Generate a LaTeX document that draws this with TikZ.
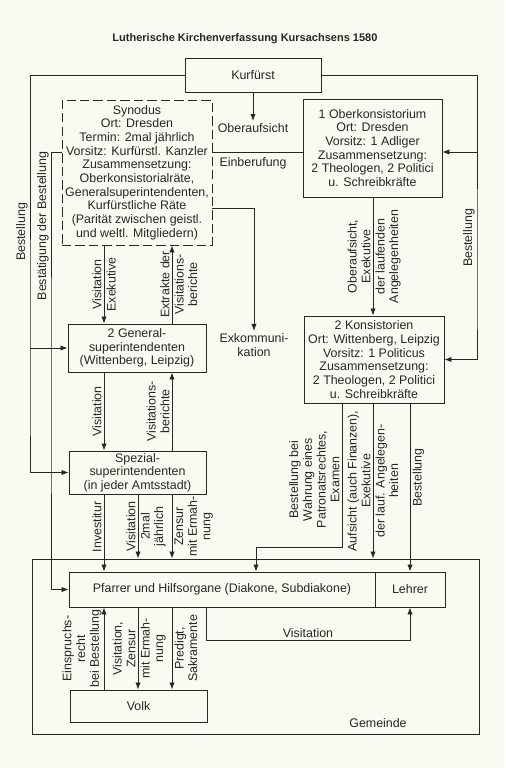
\documentclass[tikz,border=0pt]{standalone}
\usepackage{fontspec}
\setmainfont{Liberation Sans}
\usepackage{tikz}
\usetikzlibrary{arrows.meta,positioning}
\definecolor{paper}{RGB}{250,250,243}
\definecolor{ink}{RGB}{38,38,38}
\newcommand{\orgfont}{\fontsize{10.6pt}{11.7pt}\selectfont}
\tikzset{
  orgblock/.style={draw=ink, line width=0.7pt, align=center, inner sep=0pt, font=\orgfont, text=ink},
  orgdash/.style={orgblock, dash pattern=on 8pt off 3.5pt},
  orgnote/.style={align=center, inner sep=1.8pt, font=\orgfont, text=ink},
  orgvnote/.style={orgnote, rotate=90},
  orgarrow/.style={-{Latex[length=6pt,width=4.5pt]}, draw=ink, line width=0.7pt},
  orgline/.style={draw=ink, line width=0.7pt}
}

\begin{document}
\begin{tikzpicture}[x=0.03cm, y=-0.03cm]
\fill[paper] (0,0) rectangle (505,768);
\useasboundingbox (0,0) rectangle (505,768);
\node[font={\fontsize{9.4pt}{11pt}\selectfont\bfseries}, text=ink] (title) at (245,39) {Lutherische Kirchenverfassung Kursachsens 1580};
\node[orgblock, minimum width=4.08cm, minimum height=1.02cm] (kurf) at (253,75) {Kurfürst};
\node[orgdash, minimum width=4.5cm, minimum height=4.35cm] (syn) at (137,172.5) {Synodus\\Ort: Dresden\\Termin: 2mal jährlich\\Vorsitz: Kurfürstl. Kanzler\\Zusammensetzung:\\Oberkonsistorialräte,\\Generalsuperintendenten,\\Kurfürstliche Räte\\(Parität zwischen geistl.\\und weltl. Mitgliedern)};
\node[orgblock, minimum width=4.17cm, minimum height=2.94cm] (okons) at (372.5,148) {1 Oberkonsistorium\\Ort: Dresden\\Vorsitz: 1 Adliger\\Zusammensetzung:\\2 Theologen, 2 Politici\\u. Schreibkräfte};
\node[orgblock, minimum width=4.14cm, minimum height=1.44cm] (gsup) at (137,348) {2 General-\\superintendenten\\(Wittenberg, Leipzig)};
\node[orgblock, minimum width=4.2cm, minimum height=2.61cm] (kons) at (374,359.5) {2 Konsistorien\\Ort: Wittenberg, Leipzig\\Vorsitz: 1 Politicus\\Zusammensetzung:\\2 Theologen, 2 Politici\\u. Schreibkräfte};
\node[orgblock, minimum width=4.11cm, minimum height=1.29cm] (spez) at (137.5,472.5) {Spezial-\\superintendenten\\(in jeder Amtsstadt)};
\node[orgblock, minimum width=13.41cm, minimum height=5.25cm] (gem) at (255.5,646.5) {};
\node[orgblock, minimum width=9.18cm, minimum height=1.05cm] (pfarrer) at (222,589.5) {Pfarrer und Hilfsorgane (Diakone, Subdiakone)};
\node[orgblock, minimum width=2.1cm, minimum height=1.05cm] (lehrer) at (410,589.5) {Lehrer};
\node[orgblock, minimum width=4.11cm, minimum height=0.96cm] (volk) at (138.5,706) {Volk};
\node[orgnote] (gemlab) at (378,723) {Gemeinde};
\node[orgnote] (obauf) at (253,128) {Oberaufsicht};
\node[orgnote] (einb) at (253,163) {Einberufung};
\node[orgnote, anchor=north] (exkom) at (254,331) {Exkommuni-\\kation};
\node[orgvnote, anchor=south] (bestlab) at (30,232) {Bestellung};
\node[orgvnote, anchor=south] (bestblab) at (51,226) {Bestätigung der Bestellung};
\node[orgvnote, anchor=south] (bestrlab) at (477,238) {Bestellung};

\coordinate (vors) at (0,152);
\coordinate (exk) at (254,208);
\coordinate (bestl) at (30,400);
\coordinate (bestr) at (51,400);
\coordinate (bestk) at (477,300);
\coordinate (cA) at (104,0);
\coordinate (cB) at (138,0);
\coordinate (cC) at (172,0);
\coordinate (cD) at (206,0);
\coordinate (k1) at (342,0);
\coordinate (k2) at (373,0);
\coordinate (k3) at (410,0);
\coordinate (patr) at (256,547);
\coordinate (vis) at (0,640);

\draw[orgarrow] (kurf.west) -| (bestl) |- (spez.west);
\draw[orgarrow] (bestl |- gsup.west) -- (gsup.west);
\draw[orgarrow] (syn.west |- vors) -| (bestr) |- (pfarrer.west);
\draw[orgarrow] (kurf.east) -| (bestk) |- (kons.east);
\draw[orgarrow] (bestk |- vors) -- (okons.east |- vors);
\draw[orgarrow] (kurf.south) -- (obauf.north);
\draw[orgline] (syn.east |- vors) -- (okons.west |- vors);
\draw[orgarrow] (syn.east |- exk) -- (exk) -- (exkom.north);
\draw[orgarrow] (syn.south -| cA) -- (gsup.north -| cA) node[midway, orgvnote, anchor=south] {Visitation} node[midway, orgvnote, anchor=north] {Exekutive};
\draw[orgarrow] (gsup.north -| cC) -- (syn.south -| cC) node[midway, orgvnote, anchor=south] {Extrakte der} node[midway, orgvnote, anchor=north] {Visitations-\\berichte};
\draw[orgarrow] (gsup.south -| cA) -- (spez.north -| cA) node[midway, orgvnote, anchor=south] {Visitation};
\draw[orgarrow] (spez.north -| cC) -- (gsup.south -| cC) node[midway, orgvnote, anchor=south] {Visitations-\\berichte};
\draw[orgarrow] (spez.south -| cA) -- (pfarrer.north -| cA) node[pos=0.42, orgvnote, anchor=south] {Investitur};
\draw[orgarrow] (spez.south -| cB) -- (gem.north -| cB) node[midway, orgvnote, anchor=south] {Visitation} node[midway, orgvnote, anchor=north] {2mal\\jährlich};
\draw[orgarrow] (spez.south -| cC) -- (gem.north -| cC) node[midway, orgvnote, anchor=north] {Zensur\\mit Ermah-\\nung};
\draw[orgarrow] (okons.south -| k2) -- (kons.north -| k2) node[midway, orgvnote, anchor=south] {Oberaufsicht,\\Exekutive} node[midway, orgvnote, anchor=north] {der laufenden\\Angelegenheiten};
\draw[orgarrow] (kons.south -| k1) -- (k1 |- patr) node[pos=0.53, orgvnote, anchor=south] {Bestellung bei\\Wahrung eines\\Patronatsrechtes,\\Examen} -- (patr) -- (pfarrer.north -| patr);
\draw[orgarrow] (kons.south -| k2) -- (gem.north -| k2) node[midway, orgvnote, anchor=south] {Aufsicht (auch Finanzen),\\Exekutive} node[midway, orgvnote, anchor=north] {der lauf. Angelegen-\\heiten};
\draw[orgarrow] (kons.south -| k3) -- (lehrer.north -| k3) node[pos=0.44, orgvnote, anchor=north] {Bestellung};
\draw[orgarrow] (volk.north -| cA) -- (pfarrer.south -| cA) node[midway, orgvnote, anchor=south] {Einspruchs-\\recht\\bei Bestellung};
\draw[orgarrow] (pfarrer.south -| cB) -- (volk.north -| cB) node[midway, orgvnote, anchor=south] {Visitation,\\Zensur} node[midway, orgvnote, anchor=north] {mit Ermah-\\nung};
\draw[orgarrow] (pfarrer.south -| cC) -- (volk.north -| cC) node[midway, orgvnote, anchor=north] {Predigt,\\Sakramente};
\draw[orgarrow] (pfarrer.south -| cD) -- (cD |- vis) -- node[orgnote, above] {Visitation} (lehrer.south |- vis) -- (lehrer.south);
\end{tikzpicture}
\end{document}
